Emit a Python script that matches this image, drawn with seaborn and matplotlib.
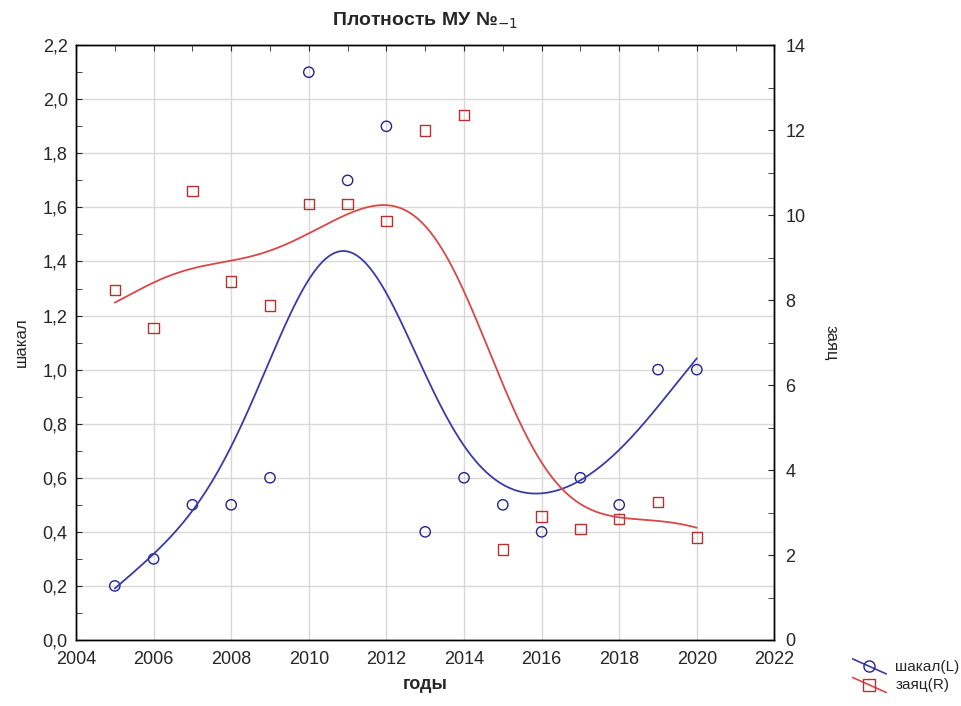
import numpy as np
import pandas as pd
import matplotlib
matplotlib.use("Agg")
import matplotlib.pyplot as plt
import seaborn as sns
from matplotlib.lines import Line2D
from matplotlib.legend_handler import HandlerBase
from matplotlib.ticker import MultipleLocator, FuncFormatter

years = [2005, 2006, 2007, 2008, 2009, 2010, 2011, 2012,
         2013, 2014, 2015, 2016, 2017, 2018, 2019, 2020]
shakal = [0.2, 0.3, 0.5, 0.5, 0.6, 2.1, 1.7, 1.9,
          0.4, 0.6, 0.5, 0.4, 0.6, 0.5, 1.0, 1.0]
zayac = [8.23, 7.35, 10.57, 8.44, 7.87, 10.26, 10.26, 9.86,
         11.99, 12.36, 2.13, 2.91, 2.62, 2.84, 3.24, 2.41]

title = "Плотность МУ №$_{-1}$"
x_label = "годы"
left_label = "шакал"
right_label = "заяц"
legend_labels = ["шакал(L)", "заяц(R)"]

blue = "#3a3aa8"
blue_dark = "#24248a"
red = "#d84848"
red_dark = "#b83030"


def dwls(x, y, grid, h, deg=1):
    # distance weighted local polynomial fit
    x = np.asarray(x, float)
    y = np.asarray(y, float)
    res = []
    for g in grid:
        d = x - g
        w = np.sqrt(np.exp(-(d / h) ** 2))
        A = np.vstack([d ** k for k in range(deg + 1)]).T
        coef = np.linalg.lstsq(A * w[:, None], y * w, rcond=None)[0]
        res.append(coef[0])
    return np.array(res)


grid = np.linspace(min(years), max(years), 300)
df = pd.DataFrame({"год": years, "шакал": shakal, "заяц": zayac})
fit = pd.DataFrame({"год": grid,
                    "шакал": dwls(years, shakal, grid, 2.2),
                    "заяц": dwls(years, zayac, grid, 2.2)})

sns.set_style("white")
plt.rcParams["font.family"] = ["Liberation Sans", "DejaVu Sans"]

fig = plt.figure(figsize=(9.62, 7.06), dpi=100)
ax = fig.add_axes([0.079, 0.0935, 0.726, 0.8425])
ax2 = ax.twinx()

sns.lineplot(data=fit, x="год", y="шакал", ax=ax, color=blue, lw=1.3)
sns.scatterplot(data=df, x="год", y="шакал", ax=ax, marker="o", s=55,
                facecolor="none", edgecolor=blue_dark, linewidth=1.0)
sns.lineplot(data=fit, x="год", y="заяц", ax=ax2, color=red, lw=1.3)
sns.scatterplot(data=df, x="год", y="заяц", ax=ax2, marker="s", s=55,
                facecolor="none", edgecolor=red_dark, linewidth=1.0)

ax.set_xlim(2004, 2022)
ax.set_ylim(0, 2.2)
ax2.set_ylim(0, 14)
ax.xaxis.set_major_locator(MultipleLocator(2))
ax.xaxis.set_minor_locator(MultipleLocator(1))
ax.yaxis.set_major_locator(MultipleLocator(0.2))
ax.yaxis.set_minor_locator(MultipleLocator(0.1))
ax2.yaxis.set_major_locator(MultipleLocator(2))
ax2.yaxis.set_minor_locator(MultipleLocator(1))
ax.yaxis.set_major_formatter(FuncFormatter(lambda v, p: f"{v:.1f}".replace(".", ",")))

ax.grid(True, which="major", color="#d8d8d8", lw=1.0)
ax.set_axisbelow(True)
for a in (ax, ax2):
    for s in a.spines.values():
        s.set_color("black")
        s.set_linewidth(1.0)
ax.tick_params(which="both", direction="in", top=True, labelsize=13, length=4, pad=6)
ax.tick_params(axis="x", which="both", pad=8)
ax2.tick_params(which="both", direction="in", labelsize=13, length=4, pad=8)

ax.set_xlabel(x_label, fontsize=13, fontweight="bold", labelpad=6)
ax.set_ylabel(left_label, fontsize=12, labelpad=10)
ax2.set_ylabel(right_label, fontsize=12, rotation=270, labelpad=24)
ax.set_title(title, fontsize=14, fontweight="bold", pad=14)


class DiagHandler(HandlerBase):
    def create_artists(self, legend, orig, xd, yd, w, h, fs, trans):
        line = Line2D([0, w], [h * 1.1, -h * 0.3],
                      color=orig.get_color(), lw=1.2, transform=trans)
        mk = Line2D([w / 2], [h * 0.4], marker=orig.get_marker(),
                    markersize=8, markerfacecolor="none",
                    markeredgecolor=orig.get_markeredgecolor(),
                    linestyle="none", transform=trans)
        return [line, mk]


handles = [Line2D([], [], color=blue, marker="o", markeredgecolor=blue_dark),
           Line2D([], [], color=red, marker="s", markeredgecolor=red_dark)]
fig.legend(handles, legend_labels, handler_map={Line2D: DiagHandler()},
           loc="lower left", bbox_to_anchor=(0.872, 0.0), frameon=False,
           fontsize=11, handlelength=2.2, handletextpad=0.6, labelspacing=0.3)

fig.savefig("out.png", dpi=100)
